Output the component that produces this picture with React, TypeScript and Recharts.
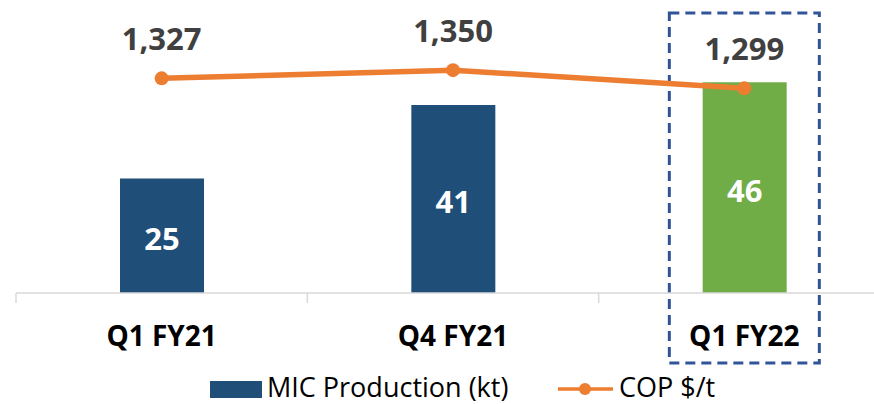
import React from 'react';
import {
  ComposedChart,
  Bar,
  Line,
  XAxis,
  YAxis,
  Cell,
  LabelList,
  ReferenceArea,
} from 'recharts';

const categories = ['Q1 FY21', 'Q4 FY21', 'Q1 FY22'];
const production = [25, 41, 46];
const cop = [1327, 1350, 1299];
const barColors = ['#1f4e79', '#1f4e79', '#70ad47'];
const highlighted = 'Q1 FY22';
const legendLabels = ['MIC Production (kt)', 'COP $/t'];

const data = categories.map((c, i) => ({ cat: c, production: production[i], cop: cop[i] }));

const FONT = '"Open Sans", sans-serif';
const BLUE = '#1f4e79';
const ORANGE = '#ed7d31';
const AXIS = '#d9d9d9';

const Tick = (props: any) => {
  const { x, y, payload, width } = props;
  const off = payload && typeof payload.offset === 'number' ? payload.offset : width / categories.length / 2;
  return (
    <g>
      <line x1={x - off} x2={x - off} y1={y} y2={y + 10} stroke={AXIS} strokeWidth={1.5} />
      <text
        x={x}
        y={y + 53}
        textAnchor="middle"
        fontFamily={FONT}
        fontWeight={700}
        fontSize={28}
        fill="#000"
      >
        {payload.value}
      </text>
    </g>
  );
};

const BarLabel = (props: any) => {
  const { x, y, width, height, value } = props;
  return (
    <text
      x={x + width / 2}
      y={y + height / 2 + 14}
      textAnchor="middle"
      fontFamily={FONT}
      fontWeight={700}
      fontSize={31}
      fill="#fff"
    >
      {value}
    </text>
  );
};

const LineLabel = (props: any) => {
  const { x, y, value } = props;
  return (
    <text
      x={x}
      y={y - 28}
      textAnchor="middle"
      fontFamily={FONT}
      fontWeight={700}
      fontSize={31}
      fill="#404040"
    >
      {Number(value).toLocaleString('en-US')}
    </text>
  );
};

const HighlightBox = (p: any) => (
  <rect
    x={p.x + p.width / 2 - 75}
    y={p.y - 5}
    width={150}
    height={p.height + 75}
    fill="none"
    stroke="#2f5597"
    strokeWidth={3}
    strokeDasharray="10 6"
  />
);

export default function App() {
  return (
    <div
      style={{
        position: 'absolute',
        left: 0,
        top: 0,
        width: 874,
        height: 404,
        overflow: 'hidden',
        background: '#fff',
      }}
    >
      <ComposedChart
        width={900}
        height={404}
        data={data}
        margin={{ top: 18, right: 10, left: 16, bottom: 51 }}
      >
        <XAxis
          dataKey="cat"
          height={60}
          axisLine={{ stroke: AXIS, strokeWidth: 1.5 }}
          tickLine={false}
          tickSize={0}
          tickMargin={0}
          tick={<Tick />}
          interval={0}
        />
        <YAxis yAxisId="left" domain={[0, 60]} hide />
        <YAxis yAxisId="right" orientation="right" domain={[726, 1496]} hide />
        <ReferenceArea
          yAxisId="left"
          x1={highlighted}
          x2={highlighted}
          ifOverflow="visible"
          shape={HighlightBox}
        />
        <Bar yAxisId="left" dataKey="production" barSize={84} isAnimationActive={false}>
          {data.map((d, i) => (
            <Cell key={d.cat} fill={barColors[i]} />
          ))}
          <LabelList dataKey="production" content={BarLabel} />
        </Bar>
        <Line
          yAxisId="right"
          dataKey="cop"
          type="linear"
          stroke={ORANGE}
          strokeWidth={5.5}
          dot={{ r: 7, fill: ORANGE, stroke: ORANGE, strokeWidth: 0 }}
          activeDot={false}
          isAnimationActive={false}
        >
          <LabelList dataKey="cop" content={LineLabel} />
        </Line>
      </ComposedChart>
      <svg
        width={874}
        height={404}
        style={{ position: 'absolute', left: 0, top: 0, pointerEvents: 'none' }}
      >
        <rect x={210} y={381} width={52} height={17} fill={BLUE} />
        <text x={267} y={397} fontFamily={FONT} fontSize={27} fill="#000">
          {legendLabels[0]}
        </text>
        <line x1={558} x2={613} y1={389} y2={389} stroke={ORANGE} strokeWidth={3.5} />
        <circle cx={585} cy={389} r={6} fill={ORANGE} />
        <text x={619} y={397} fontFamily={FONT} fontSize={27} fill="#000">
          {legendLabels[1]}
        </text>
      </svg>
    </div>
  );
}
